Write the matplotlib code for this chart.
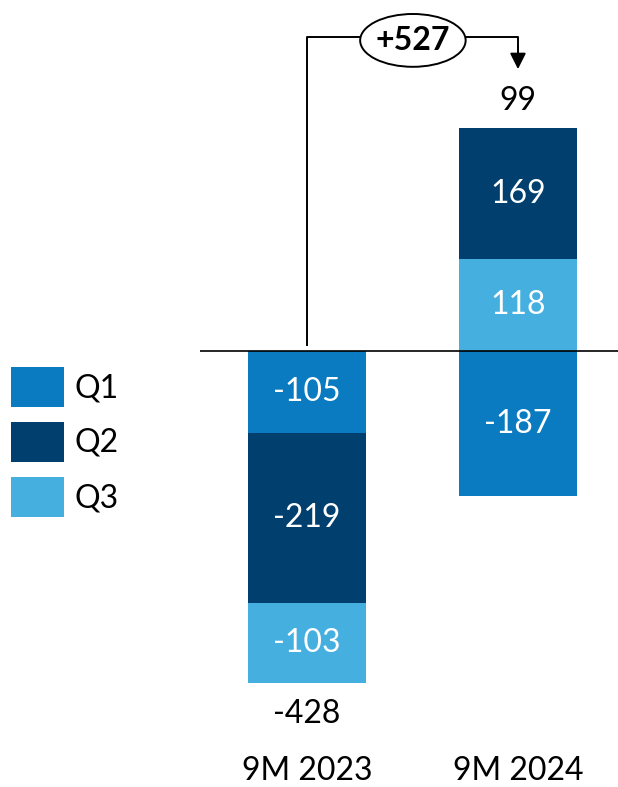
import matplotlib
matplotlib.use("Agg")
import matplotlib.pyplot as plt
from matplotlib.patches import Ellipse, Rectangle

plt.rcParams['font.family'] = ['Lato', 'DejaVu Sans']

# Quarterly results per period
periods = ["9M 2023", "9M 2024"]
quarters = ["Q1", "Q2", "Q3"]
q1 = [-105, -187]
q2 = [-219, 169]
q3 = [-103, 118]
totals = [-428, 99]
change_label = "+527"

colors = {"Q1": "#0A7BC0", "Q2": "#003F6E", "Q3": "#45AFDF"}
fs = 23

fig = plt.figure(figsize=(6.18, 7.87), dpi=100)
ax = fig.add_axes([0.3236, 0.0, 0.6764, 1.0])
ax.set_xlim(-0.507, 1.474)
ax.set_ylim(-561, 452)
ax.axis("off")

width = 0.56
series = {"Q1": q1, "Q2": q2, "Q3": q3}
neg_order = ["Q1", "Q2", "Q3"]   # negatives stack downward Q1, Q2, Q3
pos_order = ["Q3", "Q2", "Q1"]   # positives stack upward Q3 first, then Q2
for i in range(len(periods)):
    pos_base, neg_base = 0.0, 0.0
    segs = []
    for q in neg_order:
        v = series[q][i]
        if v < 0:
            segs.append((q, v, neg_base))
            neg_base += v
    for q in pos_order:
        v = series[q][i]
        if v >= 0:
            segs.append((q, v, pos_base))
            pos_base += v
    for q, v, bottom in segs:
        ax.bar(i, v, bottom=bottom, width=width, color=colors[q], linewidth=0, zorder=2)
        ax.text(i, bottom + v / 2, f"{v}", ha="center", va="center",
                color="white", fontsize=fs, zorder=3)
    # total label beyond the stack end
    if totals[i] >= 0:
        ax.text(i, pos_base + 35, f"{totals[i]}", ha="center", va="center",
                fontsize=fs, color="black")
    else:
        ax.text(i, neg_base - 40, f"{totals[i]}", ha="center", va="center",
                fontsize=fs, color="black")
    ax.text(i, -541, periods[i], ha="center", va="center", fontsize=fs, color="black")

# zero line
ax.axhline(0, color="black", linewidth=1.2, zorder=4)

# bracket showing change between periods
lw = 1.4
top_y = 404
ell_cx, ell_w, ell_h = 0.502, 0.50, 68
ax.plot([0, 0, ell_cx - ell_w / 2], [8, top_y, top_y], color="black", lw=lw, zorder=4)
ax.plot([ell_cx + ell_w / 2, 1, 1], [top_y, top_y, 385], color="black", lw=lw, zorder=4)
ax.annotate("", xy=(1, 363), xytext=(1, 392),
            arrowprops=dict(arrowstyle="-|>", color="black", lw=lw,
                            mutation_scale=24, shrinkA=0, shrinkB=0), zorder=4)
ax.add_patch(Ellipse((ell_cx, 400), ell_w, ell_h, facecolor="white",
                     edgecolor="black", lw=lw, zorder=5))
ax.text(ell_cx, 400, change_label, ha="center", va="center", fontsize=fs,
        fontweight="bold", zorder=6)

# legend swatches
for k, q in enumerate(quarters):
    top_px = 367 + k * 55
    fig.patches.append(Rectangle((11 / 618, 1 - (top_px + 40) / 787), 53 / 618, 40 / 787,
                                 transform=fig.transFigure, facecolor=colors[q],
                                 edgecolor="none"))
    fig.text(75 / 618, 1 - (top_px + 21) / 787, q, ha="left", va="center", fontsize=fs)

fig.savefig("out.png", dpi=100)
